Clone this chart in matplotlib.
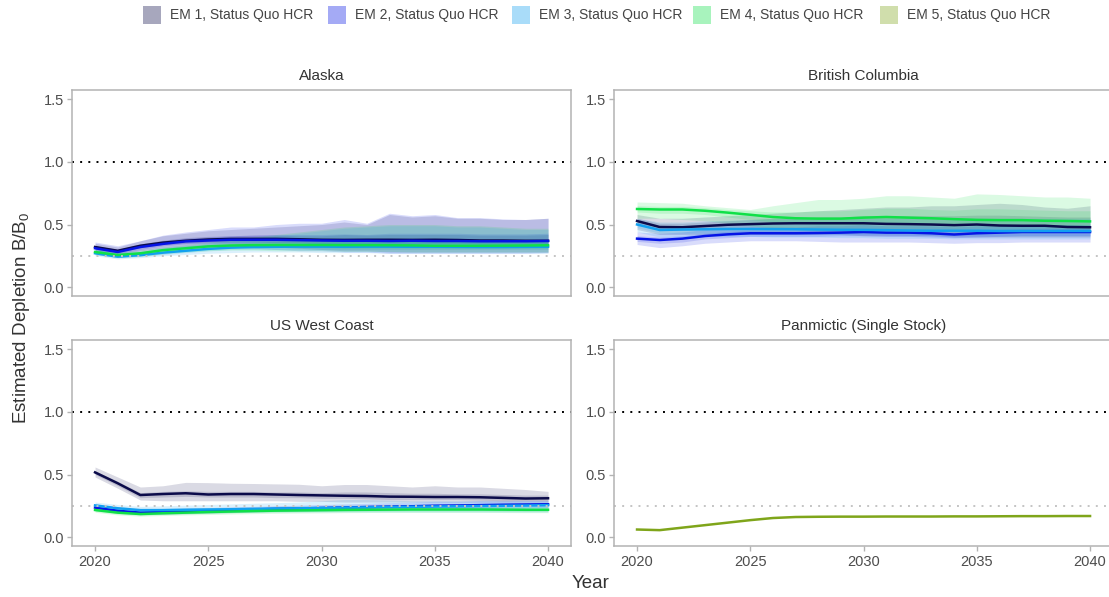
import matplotlib
matplotlib.use("Agg")
import matplotlib.pyplot as plt
from matplotlib.patches import Rectangle

plt.rcParams['font.family'] = ['Liberation Sans', 'DejaVu Sans']

years = list(range(2020, 2041))
em_labels = ["EM 1, Status Quo HCR", "EM 2, Status Quo HCR", "EM 3, Status Quo HCR",
             "EM 4, Status Quo HCR", "EM 5, Status Quo HCR"]
em_colors = ["#0b0b4a", "#0514e6", "#12a0f0", "#10e048", "#7fa51a"]
region_names = ["Alaska", "British Columbia", "US West Coast", "Panmictic (Single Stock)"]
y_ticks = [0.0, 0.5, 1.0, 1.5]
x_ticks = [2020, 2025, 2030, 2035, 2040]
target_level = 1.0
limit_level = 0.25

# ---------------- Alaska ----------------
ak_em1_med = [0.32, 0.29, 0.33, 0.355, 0.37, 0.38, 0.385, 0.385, 0.385, 0.382, 0.378, 0.377, 0.378, 0.378, 0.377, 0.378, 0.376, 0.372, 0.372, 0.370, 0.370]
ak_em1_lo95 = [0.29, 0.26, 0.29, 0.31, 0.32, 0.33, 0.33, 0.32, 0.32, 0.31, 0.30, 0.29, 0.29, 0.28, 0.28, 0.28, 0.28, 0.28, 0.28, 0.28, 0.28]
ak_em1_hi95 = [0.35, 0.32, 0.37, 0.41, 0.43, 0.45, 0.46, 0.47, 0.48, 0.49, 0.50, 0.52, 0.50, 0.58, 0.56, 0.57, 0.55, 0.55, 0.54, 0.54, 0.55]
ak_em1_lo50 = [0.31, 0.28, 0.315, 0.34, 0.35, 0.36, 0.36, 0.36, 0.355, 0.355, 0.35, 0.35, 0.35, 0.35, 0.35, 0.35, 0.35, 0.345, 0.345, 0.345, 0.345]
ak_em1_hi50 = [0.33, 0.30, 0.345, 0.375, 0.395, 0.405, 0.41, 0.415, 0.415, 0.41, 0.41, 0.42, 0.415, 0.42, 0.42, 0.42, 0.42, 0.415, 0.415, 0.415, 0.42]

ak_em2_med = [0.31, 0.28, 0.32, 0.345, 0.365, 0.372, 0.378, 0.378, 0.378, 0.375, 0.372, 0.37, 0.37, 0.368, 0.37, 0.368, 0.368, 0.366, 0.366, 0.366, 0.368]
ak_em2_lo95 = [0.28, 0.255, 0.28, 0.30, 0.31, 0.32, 0.32, 0.31, 0.30, 0.29, 0.29, 0.28, 0.28, 0.27, 0.27, 0.27, 0.27, 0.27, 0.27, 0.27, 0.275]
ak_em2_hi95 = [0.36, 0.33, 0.37, 0.415, 0.44, 0.46, 0.48, 0.48, 0.50, 0.51, 0.51, 0.54, 0.51, 0.59, 0.57, 0.58, 0.555, 0.555, 0.545, 0.54, 0.55]
ak_em2_lo50 = [0.29, 0.265, 0.30, 0.33, 0.345, 0.35, 0.35, 0.35, 0.35, 0.35, 0.345, 0.345, 0.345, 0.34, 0.34, 0.34, 0.34, 0.34, 0.34, 0.34, 0.34]
ak_em2_hi50 = [0.33, 0.30, 0.34, 0.37, 0.39, 0.40, 0.41, 0.415, 0.42, 0.42, 0.42, 0.425, 0.42, 0.43, 0.43, 0.43, 0.43, 0.425, 0.425, 0.425, 0.43]

ak_em3_med = [0.27, 0.243, 0.255, 0.275, 0.29, 0.305, 0.315, 0.32, 0.322, 0.323, 0.323, 0.322, 0.323, 0.323, 0.322, 0.322, 0.321, 0.32, 0.32, 0.321, 0.322]
ak_em3_lo95 = [0.25, 0.225, 0.235, 0.25, 0.26, 0.27, 0.275, 0.28, 0.28, 0.28, 0.275, 0.275, 0.275, 0.27, 0.27, 0.27, 0.27, 0.27, 0.27, 0.27, 0.27]
ak_em3_hi95 = [0.30, 0.27, 0.285, 0.31, 0.33, 0.35, 0.37, 0.39, 0.41, 0.43, 0.45, 0.47, 0.48, 0.49, 0.49, 0.49, 0.48, 0.48, 0.47, 0.46, 0.46]
ak_em3_lo50 = [0.26, 0.235, 0.245, 0.26, 0.275, 0.29, 0.30, 0.30, 0.30, 0.30, 0.30, 0.30, 0.30, 0.30, 0.30, 0.30, 0.30, 0.30, 0.30, 0.30, 0.30]
ak_em3_hi50 = [0.285, 0.255, 0.27, 0.29, 0.31, 0.325, 0.335, 0.345, 0.35, 0.355, 0.36, 0.365, 0.37, 0.37, 0.37, 0.37, 0.365, 0.365, 0.36, 0.36, 0.36]

ak_em4_med = [0.28, 0.256, 0.27, 0.295, 0.31, 0.325, 0.332, 0.335, 0.336, 0.336, 0.336, 0.335, 0.335, 0.334, 0.333, 0.33, 0.33, 0.33, 0.331, 0.332, 0.334]
ak_em4_lo95 = [0.26, 0.235, 0.245, 0.265, 0.28, 0.29, 0.295, 0.295, 0.29, 0.29, 0.29, 0.285, 0.285, 0.285, 0.28, 0.28, 0.28, 0.28, 0.28, 0.28, 0.28]
ak_em4_hi95 = [0.31, 0.28, 0.295, 0.32, 0.34, 0.36, 0.38, 0.40, 0.42, 0.44, 0.46, 0.48, 0.49, 0.50, 0.50, 0.50, 0.49, 0.49, 0.48, 0.47, 0.47]
ak_em4_lo50 = [0.27, 0.245, 0.258, 0.28, 0.295, 0.31, 0.315, 0.315, 0.315, 0.315, 0.315, 0.31, 0.31, 0.31, 0.31, 0.31, 0.31, 0.31, 0.31, 0.31, 0.31]
ak_em4_hi50 = [0.295, 0.268, 0.283, 0.31, 0.325, 0.34, 0.35, 0.36, 0.365, 0.37, 0.375, 0.38, 0.385, 0.385, 0.385, 0.38, 0.38, 0.38, 0.375, 0.375, 0.375]

# ---------------- British Columbia ----------------
bc_em1_med = [0.528, 0.48, 0.478, 0.488, 0.498, 0.503, 0.508, 0.51, 0.51, 0.51, 0.51, 0.505, 0.503, 0.50, 0.495, 0.50, 0.492, 0.49, 0.49, 0.48, 0.478]
bc_em1_lo95 = [0.46, 0.42, 0.42, 0.42, 0.42, 0.42, 0.42, 0.42, 0.42, 0.42, 0.41, 0.41, 0.41, 0.41, 0.40, 0.40, 0.40, 0.40, 0.40, 0.40, 0.40]
bc_em1_hi95 = [0.58, 0.55, 0.55, 0.56, 0.57, 0.58, 0.59, 0.60, 0.61, 0.62, 0.63, 0.64, 0.64, 0.65, 0.65, 0.66, 0.67, 0.66, 0.64, 0.63, 0.65]
bc_em1_lo50 = [0.50, 0.455, 0.455, 0.46, 0.465, 0.47, 0.47, 0.47, 0.47, 0.465, 0.465, 0.46, 0.46, 0.455, 0.455, 0.455, 0.45, 0.45, 0.45, 0.45, 0.45]
bc_em1_hi50 = [0.55, 0.51, 0.51, 0.52, 0.53, 0.54, 0.55, 0.55, 0.56, 0.56, 0.57, 0.57, 0.57, 0.57, 0.57, 0.575, 0.575, 0.57, 0.565, 0.56, 0.56]

bc_em2_med = [0.387, 0.376, 0.387, 0.408, 0.421, 0.43, 0.43, 0.43, 0.432, 0.435, 0.44, 0.435, 0.435, 0.43, 0.42, 0.43, 0.435, 0.44, 0.44, 0.44, 0.44]
bc_em2_lo95 = [0.34, 0.315, 0.33, 0.35, 0.36, 0.37, 0.37, 0.37, 0.365, 0.36, 0.36, 0.36, 0.36, 0.355, 0.35, 0.355, 0.355, 0.36, 0.36, 0.36, 0.36]
bc_em2_hi95 = [0.44, 0.43, 0.44, 0.46, 0.47, 0.48, 0.48, 0.48, 0.49, 0.49, 0.50, 0.49, 0.49, 0.49, 0.48, 0.49, 0.49, 0.50, 0.50, 0.50, 0.50]
bc_em2_lo50 = [0.365, 0.35, 0.36, 0.385, 0.395, 0.405, 0.405, 0.405, 0.405, 0.41, 0.41, 0.405, 0.405, 0.40, 0.395, 0.40, 0.405, 0.41, 0.41, 0.41, 0.41]
bc_em2_hi50 = [0.41, 0.40, 0.41, 0.43, 0.445, 0.455, 0.455, 0.455, 0.46, 0.46, 0.465, 0.46, 0.46, 0.455, 0.45, 0.455, 0.46, 0.465, 0.465, 0.465, 0.465]

bc_em3_med = [0.50, 0.456, 0.46, 0.462, 0.464, 0.464, 0.463, 0.462, 0.46, 0.458, 0.457, 0.455, 0.452, 0.45, 0.45, 0.45, 0.448, 0.448, 0.448, 0.448, 0.448]
bc_em3_lo95 = [0.44, 0.40, 0.40, 0.405, 0.405, 0.405, 0.40, 0.40, 0.40, 0.395, 0.395, 0.39, 0.39, 0.39, 0.385, 0.385, 0.385, 0.385, 0.385, 0.385, 0.385]
bc_em3_hi95 = [0.55, 0.52, 0.52, 0.53, 0.535, 0.54, 0.545, 0.55, 0.55, 0.55, 0.55, 0.55, 0.55, 0.55, 0.55, 0.55, 0.55, 0.55, 0.55, 0.55, 0.55]
bc_em3_lo50 = [0.475, 0.43, 0.43, 0.43, 0.43, 0.43, 0.43, 0.425, 0.425, 0.42, 0.42, 0.42, 0.415, 0.415, 0.41, 0.41, 0.41, 0.41, 0.41, 0.41, 0.41]
bc_em3_hi50 = [0.525, 0.485, 0.49, 0.495, 0.50, 0.50, 0.50, 0.50, 0.50, 0.50, 0.50, 0.495, 0.495, 0.49, 0.49, 0.49, 0.49, 0.49, 0.49, 0.49, 0.49]

bc_em4_med = [0.624, 0.62, 0.62, 0.61, 0.595, 0.578, 0.56, 0.55, 0.547, 0.547, 0.555, 0.56, 0.555, 0.55, 0.543, 0.537, 0.535, 0.535, 0.53, 0.528, 0.525]
bc_em4_lo95 = [0.55, 0.55, 0.54, 0.53, 0.51, 0.49, 0.47, 0.46, 0.45, 0.45, 0.45, 0.45, 0.45, 0.45, 0.44, 0.44, 0.44, 0.44, 0.44, 0.44, 0.44]
bc_em4_hi95 = [0.68, 0.675, 0.67, 0.65, 0.635, 0.62, 0.65, 0.675, 0.70, 0.70, 0.71, 0.73, 0.73, 0.72, 0.71, 0.745, 0.74, 0.73, 0.72, 0.72, 0.71]
bc_em4_lo50 = [0.60, 0.59, 0.59, 0.58, 0.56, 0.54, 0.52, 0.51, 0.50, 0.50, 0.50, 0.50, 0.50, 0.50, 0.495, 0.49, 0.49, 0.49, 0.49, 0.49, 0.49]
bc_em4_hi50 = [0.65, 0.645, 0.645, 0.635, 0.62, 0.61, 0.60, 0.60, 0.61, 0.61, 0.62, 0.63, 0.63, 0.62, 0.615, 0.625, 0.625, 0.62, 0.615, 0.61, 0.61]

# ---------------- US West Coast ----------------
wc_em1_med = [0.517, 0.43, 0.336, 0.344, 0.35, 0.34, 0.344, 0.344, 0.34, 0.336, 0.333, 0.33, 0.328, 0.323, 0.322, 0.32, 0.32, 0.318, 0.313, 0.308, 0.31]
wc_em1_lo95 = [0.48, 0.39, 0.296, 0.29, 0.29, 0.29, 0.29, 0.29, 0.29, 0.285, 0.285, 0.28, 0.28, 0.28, 0.28, 0.28, 0.28, 0.28, 0.28, 0.28, 0.28]
wc_em1_hi95 = [0.56, 0.48, 0.40, 0.41, 0.437, 0.435, 0.43, 0.428, 0.425, 0.422, 0.41, 0.42, 0.42, 0.41, 0.40, 0.41, 0.40, 0.40, 0.39, 0.38, 0.365]
wc_em1_lo50 = [0.50, 0.41, 0.315, 0.32, 0.325, 0.32, 0.32, 0.32, 0.315, 0.315, 0.31, 0.31, 0.305, 0.30, 0.30, 0.30, 0.30, 0.295, 0.29, 0.29, 0.29]
wc_em1_hi50 = [0.53, 0.445, 0.355, 0.365, 0.37, 0.365, 0.365, 0.365, 0.36, 0.36, 0.355, 0.36, 0.36, 0.355, 0.35, 0.35, 0.345, 0.345, 0.34, 0.335, 0.335]

wc_em2_med = [0.235, 0.21, 0.195, 0.20, 0.205, 0.21, 0.215, 0.22, 0.225, 0.228, 0.232, 0.236, 0.24, 0.243, 0.246, 0.25, 0.252, 0.255, 0.258, 0.26, 0.262]
wc_em2_lo95 = [0.215, 0.19, 0.178, 0.182, 0.186, 0.19, 0.195, 0.20, 0.205, 0.208, 0.21, 0.212, 0.215, 0.218, 0.22, 0.222, 0.225, 0.228, 0.23, 0.232, 0.235]
wc_em2_hi95 = [0.26, 0.235, 0.22, 0.225, 0.23, 0.235, 0.24, 0.245, 0.25, 0.255, 0.26, 0.265, 0.27, 0.275, 0.28, 0.285, 0.285, 0.29, 0.29, 0.29, 0.29]
wc_em2_lo50 = [0.225, 0.20, 0.186, 0.19, 0.195, 0.20, 0.205, 0.21, 0.215, 0.218, 0.22, 0.224, 0.228, 0.23, 0.233, 0.236, 0.238, 0.241, 0.244, 0.246, 0.248]
wc_em2_hi50 = [0.245, 0.22, 0.205, 0.21, 0.215, 0.22, 0.225, 0.232, 0.237, 0.24, 0.245, 0.25, 0.253, 0.257, 0.26, 0.265, 0.266, 0.27, 0.272, 0.274, 0.276]

wc_em3_med = [0.253, 0.23, 0.215, 0.215, 0.218, 0.22, 0.222, 0.225, 0.228, 0.23, 0.232, 0.235, 0.237, 0.24, 0.242, 0.244, 0.246, 0.248, 0.25, 0.252, 0.255]
wc_em3_lo95 = [0.23, 0.205, 0.19, 0.19, 0.192, 0.195, 0.197, 0.20, 0.20, 0.20, 0.20, 0.20, 0.20, 0.20, 0.20, 0.20, 0.20, 0.20, 0.20, 0.20, 0.20]
wc_em3_hi95 = [0.28, 0.26, 0.245, 0.25, 0.255, 0.26, 0.265, 0.27, 0.275, 0.28, 0.29, 0.30, 0.30, 0.295, 0.29, 0.29, 0.29, 0.29, 0.29, 0.29, 0.29]
wc_em3_lo50 = [0.24, 0.217, 0.202, 0.202, 0.205, 0.207, 0.209, 0.211, 0.213, 0.214, 0.215, 0.217, 0.218, 0.22, 0.222, 0.224, 0.226, 0.228, 0.23, 0.232, 0.234]
wc_em3_hi50 = [0.265, 0.243, 0.228, 0.23, 0.233, 0.236, 0.239, 0.242, 0.245, 0.248, 0.252, 0.256, 0.258, 0.26, 0.262, 0.264, 0.266, 0.268, 0.27, 0.272, 0.274]

wc_em4_med = [0.216, 0.195, 0.184, 0.19, 0.195, 0.20, 0.204, 0.208, 0.211, 0.213, 0.215, 0.217, 0.218, 0.219, 0.22, 0.22, 0.22, 0.22, 0.219, 0.218, 0.218]
wc_em4_lo95 = [0.198, 0.177, 0.167, 0.172, 0.177, 0.18, 0.184, 0.187, 0.19, 0.192, 0.193, 0.195, 0.196, 0.197, 0.197, 0.197, 0.197, 0.197, 0.196, 0.195, 0.195]
wc_em4_hi95 = [0.235, 0.215, 0.203, 0.21, 0.215, 0.22, 0.225, 0.23, 0.233, 0.236, 0.238, 0.24, 0.24, 0.242, 0.243, 0.243, 0.243, 0.243, 0.242, 0.242, 0.242]
wc_em4_lo50 = [0.207, 0.186, 0.175, 0.181, 0.186, 0.19, 0.194, 0.198, 0.201, 0.203, 0.205, 0.206, 0.207, 0.208, 0.209, 0.209, 0.209, 0.209, 0.208, 0.207, 0.207]
wc_em4_hi50 = [0.225, 0.205, 0.193, 0.20, 0.205, 0.21, 0.214, 0.218, 0.222, 0.224, 0.226, 0.228, 0.229, 0.23, 0.231, 0.231, 0.231, 0.231, 0.23, 0.229, 0.229]

# ---------------- Panmictic (single stock) ----------------
pm_em5_med = [0.06, 0.055, 0.075, 0.095, 0.115, 0.135, 0.152, 0.16, 0.162, 0.163, 0.163, 0.164, 0.164, 0.164, 0.165, 0.165, 0.166, 0.167, 0.167, 0.168, 0.168]

panel_series = {
    "Alaska": [
        (0, ak_em1_med, ak_em1_lo95, ak_em1_hi95, ak_em1_lo50, ak_em1_hi50),
        (1, ak_em2_med, ak_em2_lo95, ak_em2_hi95, ak_em2_lo50, ak_em2_hi50),
        (2, ak_em3_med, ak_em3_lo95, ak_em3_hi95, ak_em3_lo50, ak_em3_hi50),
        (3, ak_em4_med, ak_em4_lo95, ak_em4_hi95, ak_em4_lo50, ak_em4_hi50),
    ],
    "British Columbia": [
        (0, bc_em1_med, bc_em1_lo95, bc_em1_hi95, bc_em1_lo50, bc_em1_hi50),
        (1, bc_em2_med, bc_em2_lo95, bc_em2_hi95, bc_em2_lo50, bc_em2_hi50),
        (2, bc_em3_med, bc_em3_lo95, bc_em3_hi95, bc_em3_lo50, bc_em3_hi50),
        (3, bc_em4_med, bc_em4_lo95, bc_em4_hi95, bc_em4_lo50, bc_em4_hi50),
    ],
    "US West Coast": [
        (0, wc_em1_med, wc_em1_lo95, wc_em1_hi95, wc_em1_lo50, wc_em1_hi50),
        (1, wc_em2_med, wc_em2_lo95, wc_em2_hi95, wc_em2_lo50, wc_em2_hi50),
        (2, wc_em3_med, wc_em3_lo95, wc_em3_hi95, wc_em3_lo50, wc_em3_hi50),
        (3, wc_em4_med, wc_em4_lo95, wc_em4_hi95, wc_em4_lo50, wc_em4_hi50),
    ],
    "Panmictic (Single Stock)": [
        (4, pm_em5_med, None, None, None, None),
    ],
}

W, H = 1109, 597
fig = plt.figure(figsize=(W / 100, H / 100), dpi=100)

col_x = [72.4 / W, 614.4 / W]
row_y = [1 - 296.4 / H, 1 - 546.4 / H]
ax_w = 498.3 / W
ax_h = 206.3 / H

frame_col = "#b3b3b3"
tick_txt = "#4d4d4d"
band_alpha = 0.15
key_alpha = 0.36

for k, name in enumerate(region_names):
    r, c = divmod(k, 2)
    ax = fig.add_axes([col_x[c], row_y[r], ax_w, ax_h])
    for idx, med, lo95, hi95, lo50, hi50 in panel_series[name]:
        if lo95 is not None:
            ax.fill_between(years, lo95, hi95, color=em_colors[idx], alpha=band_alpha, lw=0)
            ax.fill_between(years, lo50, hi50, color=em_colors[idx], alpha=band_alpha, lw=0)
    for s in panel_series[name]:
        idx, med = s[0], s[1]
        ax.plot(years, med, color=em_colors[idx], lw=1.8, solid_joinstyle='round')
    ax.axhline(target_level, color="black", lw=1.4, ls=(0, (1, 3.2)))
    ax.axhline(limit_level, color="#c4c4c4", lw=1.4, ls=(0, (1, 3.2)))

    ax.set_xlim(2019, 2041)
    ax.set_ylim(-0.075, 1.575)
    ax.set_yticks(y_ticks)
    ax.set_yticklabels([f"{v:.1f}" for v in y_ticks])
    ax.set_xticks(x_ticks)
    if r == 0:
        ax.tick_params(axis='x', bottom=False, labelbottom=False)
    else:
        ax.set_xticklabels([str(v) for v in x_ticks])
    ax.tick_params(axis='both', colors=frame_col, labelcolor=tick_txt, labelsize=10.5,
                   length=3.5, width=1.0, pad=2.5)
    for sp in ax.spines.values():
        sp.set_color(frame_col)
        sp.set_linewidth(1.1)
    ax.set_title(name, fontsize=11, color="#333333", pad=7)

fig.text(22 / W, 1 - 318 / H, r"Estimated Depletion B/B$_{\mathregular{0}}$",
         rotation=90, ha="center", va="center", fontsize=13.5, color="#333333")
fig.text(591 / W, 1 - 583 / H, "Year", ha="center", va="center", fontsize=13.5,
         color="#333333")

# legend row along the top
key_x = [143, 328, 512, 693, 880]
for i, lab in enumerate(em_labels):
    fig.add_artist(Rectangle((key_x[i] / W, 1 - 24 / H), 18 / W, 18 / H,
                             transform=fig.transFigure, facecolor=em_colors[i],
                             alpha=key_alpha, edgecolor="none"))
    fig.text((key_x[i] + 27) / W, 1 - 15 / H, lab, ha="left", va="center",
             fontsize=10, color="#444444")

fig.savefig("out.png", dpi=100)
